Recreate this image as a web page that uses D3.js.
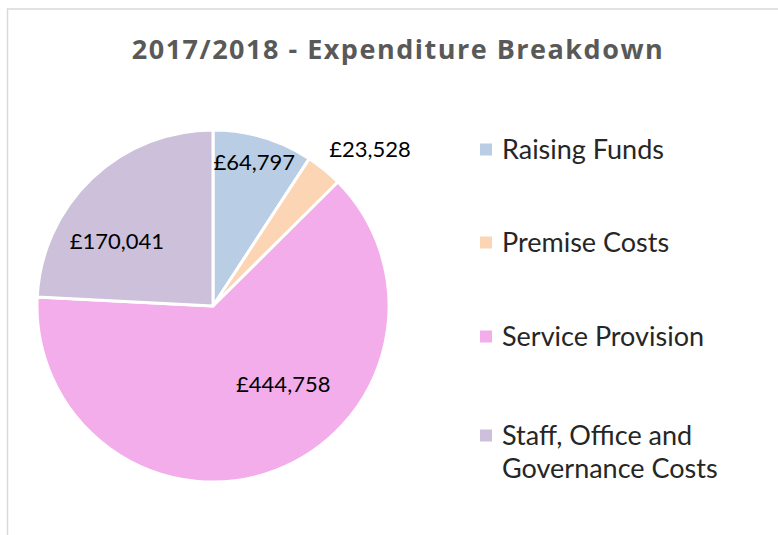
<!DOCTYPE html>
<html>
<head>
<meta charset="utf-8">
<script src="https://cdn.jsdelivr.net/npm/d3@7"></script>
<style>
    body { margin: 0; background: #fff; }
    svg text { font-family: Lato, "Open Sans", sans-serif; }
    svg text.title { font-family: "Open Sans", sans-serif; letter-spacing: 1.5px; }
</style>
</head>
<body>
<svg id="chart" width="778" height="535"></svg>
<script>
// chart data
const categories = ["Raising Funds", "Premise Costs", "Service Provision", "Staff, Office and Governance Costs"];
const values = [64797, 23528, 444758, 170041];
const colours = ["#b9cde5", "#fcd5b5", "#f2adea", "#ccc0da"];
const legendLines = [["Raising Funds"], ["Premise Costs"], ["Service Provision"], ["Staff, Office and", "Governance Costs"]];

// where Excel's "best fit" put each value label: [angle in degrees from 12 o'clock, distance from centre]
const labelSpots = [[16, 150], [45, 222], [138, 105], [304, 116]];

const svg = d3.select("#chart");
const width = +svg.attr("width"),
    height = +svg.attr("height");

// chart area border (runs off the right and bottom)
svg.append("rect")
    .attr("x", 7.5)
    .attr("y", 9)
    .attr("width", width)
    .attr("height", height)
    .attr("fill", "none")
    .attr("stroke", "#d9d9d9")
    .attr("stroke-width", 1.5);

svg.append("text")
    .attr("class", "title")
    .attr("x", 398)
    .attr("y", 59)
    .attr("text-anchor", "middle")
    .attr("font-size", 27)
    .attr("font-weight", "bold")
    .attr("fill", "#595959")
    .text("2017/2018 - Expenditure Breakdown");

const cx = 213, cy = 306, radius = 176;

const pie = d3.pie().sort(null).value(d => d);
const arc = d3.arc().innerRadius(0).outerRadius(radius);
const arcs = pie(values);

const g = svg.append("g").attr("transform", `translate(${cx},${cy})`);

g.selectAll("path")
    .data(arcs)
    .enter().append("path")
    .attr("d", arc)
    .attr("fill", (d, i) => colours[i])
    .attr("stroke", "#fff")
    .attr("stroke-width", 3)
    .attr("stroke-linejoin", "round");

const fmt = d3.format(",");

g.selectAll(".val")
    .data(arcs)
    .enter().append("text")
    .attr("class", "val")
    .attr("x", (d, i) => Math.sin(labelSpots[i][0] * Math.PI / 180) * labelSpots[i][1])
    .attr("y", (d, i) => -Math.cos(labelSpots[i][0] * Math.PI / 180) * labelSpots[i][1])
    .attr("dy", "0.35em")
    .attr("text-anchor", "middle")
    .attr("font-size", 22)
    .attr("fill", "#000")
    .text(d => "£" + fmt(d.value));

// legend
const legend = svg.append("g").attr("transform", "translate(480,0)");
const rowY = [150, 243, 337, 436];

const item = legend.selectAll(".item")
    .data(categories)
    .enter().append("g")
    .attr("class", "item")
    .attr("transform", (d, i) => `translate(0,${rowY[i]})`);

item.append("rect")
    .attr("x", 0)
    .attr("y", -6.5)
    .attr("width", 12)
    .attr("height", 12)
    .attr("fill", (d, i) => colours[i]);

item.append("text")
    .attr("x", 22)
    .attr("font-size", 27)
    .attr("fill", "#262626")
    .selectAll("tspan")
    .data((d, i) => legendLines[i])
    .enter().append("tspan")
    .attr("x", 22)
    .attr("dy", (d, j) => j === 0 ? "0.32em" : "1.22em")
    .text(d => d);
</script>
</body>
</html>
